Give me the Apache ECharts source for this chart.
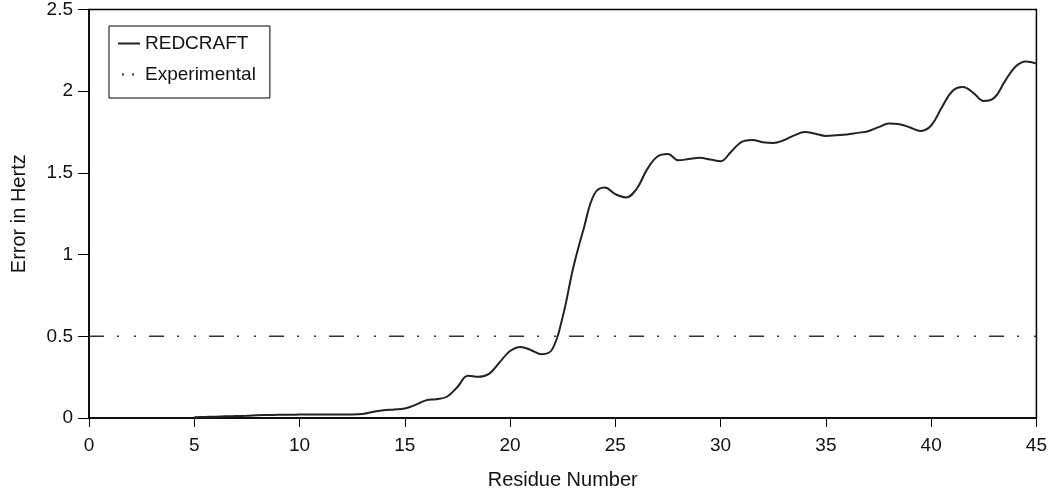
<!DOCTYPE html>
<html>
<head>
<meta charset="utf-8">
<script src="https://cdn.jsdelivr.net/npm/echarts@6/dist/echarts.min.js"></script>
<style>
  html, body { margin: 0; padding: 0; background: #fff; }
  #chart { width: 1050px; height: 495px; }
</style>
</head>
<body>
<div id="chart"></div>
<script>
// residue numbers (sampled every half residue along the curve)
const residues = [
  5, 5.5, 6, 6.5, 7, 7.5, 8, 8.5, 9, 9.5, 10, 10.5, 11, 11.5, 12, 12.5,
  13, 13.5, 14, 14.5, 15, 15.5, 16, 16.5, 17, 17.5, 18, 18.5, 19, 19.5,
  20, 20.5, 21, 21.5, 22, 22.5, 23, 23.5, 24, 24.5, 25, 25.5, 26, 26.5,
  27, 27.5, 28, 28.5, 29, 29.5, 30, 30.5, 31, 31.5, 32, 32.5, 33, 33.5,
  34, 34.5, 35, 35.5, 36, 36.5, 37, 37.5, 38, 38.5, 39, 39.5, 40, 40.5,
  41, 41.5, 42, 42.5, 43, 43.5, 44, 44.5, 45
];
// REDCRAFT error in Hz
const redcraft = [
  0.005, 0.006, 0.008, 0.010, 0.012, 0.014, 0.017, 0.018, 0.020, 0.020, 0.021, 0.021, 0.021, 0.021, 0.022, 0.022,
  0.025, 0.038, 0.048, 0.052, 0.058, 0.080, 0.108, 0.115, 0.130, 0.190, 0.258, 0.252, 0.270, 0.340,
  0.410, 0.435, 0.415, 0.390, 0.420, 0.620, 0.920, 1.160, 1.370, 1.410, 1.370, 1.350, 1.400, 1.520,
  1.600, 1.615, 1.577, 1.585, 1.592, 1.582, 1.572, 1.630, 1.690, 1.702, 1.688, 1.683, 1.700, 1.730,
  1.750, 1.740, 1.726, 1.730, 1.735, 1.745, 1.755, 1.780, 1.802, 1.798, 1.778, 1.757, 1.790, 1.900,
  2.000, 2.025, 1.990, 1.940, 1.960, 2.060, 2.150, 2.182, 2.170
];
// experimental error level
const expX = [0, 45];
const expY = [0.5, 0.5];

const xTicks = [0, 5, 10, 15, 20, 25, 30, 35, 40, 45];
const yTicks = [0, 0.5, 1, 1.5, 2, 2.5];

const font = 'Liberation Sans, Arial, sans-serif';
const chart = echarts.init(document.getElementById('chart'));

chart.setOption({
  animation: false,
  grid: {
    left: 89, right: 10, top: 7, bottom: 74,
    show: true, borderColor: '#000', borderWidth: 1.5
  },
  legend: {
    show: true,
    left: 109, top: 26,
    orient: 'vertical',
    backgroundColor: '#fff',
    borderColor: '#000', borderWidth: 1,
    padding: [8, 14, 14, 8],
    itemGap: 12,
    itemWidth: 22, itemHeight: 14,
    itemStyle: { opacity: 0 },
    textStyle: { fontFamily: font, fontSize: 19, color: '#111' },
    data: [
      { name: 'REDCRAFT' },
      { name: 'Experimental', lineStyle: { type: [2, 8], dashOffset: -4 } }
    ]
  },
  xAxis: {
    type: 'value',
    min: 0, max: 45, interval: 5,
    name: 'Residue Number',
    nameLocation: 'middle', nameGap: 52,
    nameTextStyle: { fontFamily: font, fontSize: 20, color: '#111' },
    axisLine: { onZero: false, lineStyle: { color: '#000', width: 1.5 } },
    axisTick: { length: 9, lineStyle: { color: '#000' } },
    axisLabel: {
      fontFamily: font, fontSize: 19, color: '#111', margin: 18,
      formatter: v => xTicks.includes(v) ? String(v) : ''
    },
    splitLine: { show: false }
  },
  yAxis: {
    type: 'value',
    min: 0, max: 2.5, interval: 0.5,
    name: 'Error in Hertz',
    nameLocation: 'middle', nameGap: 60,
    nameTextStyle: { fontFamily: font, fontSize: 20, color: '#111' },
    axisLine: { show: true, lineStyle: { color: '#000', width: 1.5 } },
    axisTick: { show: true, length: 11, lineStyle: { color: '#000' } },
    axisLabel: {
      fontFamily: font, fontSize: 19, color: '#111', margin: 16,
      formatter: v => yTicks.includes(v) ? String(v) : ''
    },
    splitLine: { show: false }
  },
  series: [
    {
      name: 'REDCRAFT',
      type: 'line',
      data: residues.map((r, i) => [r, redcraft[i]]),
      smooth: 0.4,
      symbol: 'none',
      lineStyle: { color: '#222', width: 2 },
      itemStyle: { color: '#222' }
    },
    {
      name: 'Experimental',
      type: 'line',
      data: expX.map((r, i) => [r, expY[i]]),
      symbol: 'none',
      lineStyle: { color: '#333', width: 1.5, type: [15, 13, 2, 15, 2, 13] },
      itemStyle: { color: '#333' }
    }
  ]
});
</script>
</body>
</html>
